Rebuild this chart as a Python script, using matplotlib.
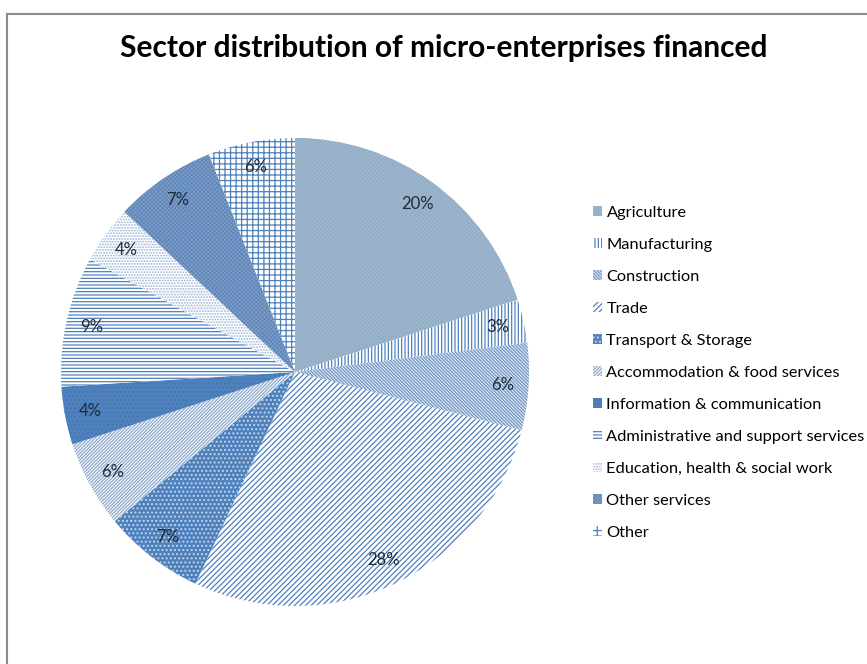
import matplotlib
matplotlib.use("Agg")
import matplotlib.pyplot as plt
from matplotlib.lines import Line2D

plt.rcParams["font.family"] = ["Lato", "DejaVu Sans"]
plt.rcParams["hatch.linewidth"] = 0.9

# data
sectors = ["Agriculture", "Manufacturing", "Construction", "Trade",
           "Transport & Storage", "Accommodation & food services",
           "Information & communication", "Administrative and support services",
           "Education, health & social work", "Other services", "Other"]
shares = [20, 3, 6, 28, 7, 6, 4, 9, 4, 7, 6]

# fill, hatch colour, hatch pattern per sector
faces = ["#a3bad0", "white", "#e4ebf4", "white", "#4f81bd", "white",
         "#4f81bd", "white", "white", "#86a4ca", "white"]
hatch_cols = ["#94aec8", "#4f81bd", "#6f94c6", "#4f81bd", "#c9d8ec", "#8aa7cd",
              "#4576b3", "#4f81bd", "#9ab4d6", "#6389bb", "#4f81bd"]
hatches = ["xxxxxxxx", "|" * 5, "\\" * 10, "/" * 6, "....", "/" * 10,
           "....", "-" * 5, "......", "xxxxxxxx", "+++"]

W, H = 867, 664
fig = plt.figure(figsize=(W / 100, H / 100), dpi=100)

# pie centre (295, 372) px, radius 234 px
cx, cy, r = 295, 372, 234
ax = fig.add_axes([(cx - r) / W, (H - cy - r) / H, 2 * r / W, 2 * r / H])

wedges, _, autotexts = ax.pie(shares, startangle=90, counterclock=False,
                              autopct="%1.0f%%", pctdistance=0.89,
                              textprops=dict(fontsize=12, color="#1f2a38"))
for w, fc, hc, h in zip(wedges, faces, hatch_cols, hatches):
    w.set_facecolor(fc)
    w.set_edgecolor(hc)
    w.set_hatch(h)
    w.set_linewidth(0)
ax.set_xlim(-1, 1)
ax.set_ylim(-1, 1)

fig.text(444 / W, 1 - 48 / H, "Sector distribution of micro-enterprises financed",
         ha="center", va="center", fontsize=21.5, fontweight="bold")

leg = fig.legend(wedges, sectors, loc="upper left",
                 bbox_to_anchor=(586 / W, 1 - 199 / H), frameon=False,
                 fontsize=11.8, handlelength=0.55, handleheight=0.55,
                 handletextpad=0.3, labelspacing=1.1, borderaxespad=0)

# chart frame (left and top edges visible)
fig.add_artist(Line2D([7 / W, 7 / W], [0, 1 - 14 / H], color="#8c8c8c", lw=1.5))
fig.add_artist(Line2D([7 / W, 1], [1 - 14 / H, 1 - 14 / H], color="#8c8c8c", lw=1.5))

fig.savefig("out.png", dpi=100)
